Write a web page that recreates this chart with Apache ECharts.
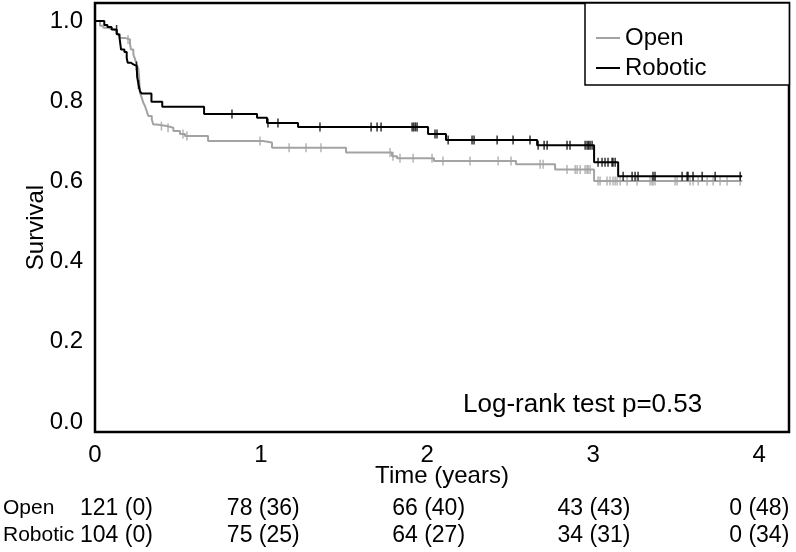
<!DOCTYPE html>
<html>
<head>
<meta charset="utf-8">
<script src="https://cdn.jsdelivr.net/npm/echarts@6/dist/echarts.min.js"></script>
<style>html,body{margin:0;padding:0;background:#fff}#c{width:796px;height:552px}</style>
</head>
<body>
<div id="c"></div>
<script>
// ---- Data ----
const openTimes = [0, 0.030, 0.050, 0.080, 0.110, 0.131, 0.151, 0.181, 0.211, 0.217, 0.231, 0.241, 0.251, 0.261, 0.265, 0.271, 0.281, 0.291, 0.301, 0.311, 0.321, 0.342, 0.351, 0.372, 0.432, 0.472, 0.512, 0.542, 0.681, 1.012, 1.066, 1.512, 1.789, 1.819, 2.042, 2.536, 2.771, 3.006, 3.898];
const openSurv = [1, 0.988, 0.983, 0.979, 0.975, 0.967, 0.958, 0.954, 0.942, 0.929, 0.917, 0.905, 0.892, 0.880, 0.863, 0.821, 0.809, 0.796, 0.788, 0.776, 0.763, 0.755, 0.742, 0.738, 0.734, 0.726, 0.718, 0.713, 0.701, 0.697, 0.684, 0.672, 0.663, 0.658, 0.651, 0.643, 0.630, 0.601, 0.601];
const openCensor = [0.199, 0.40, 0.44, 0.53, 0.554, 0.994, 1.169, 1.271, 1.361, 1.777, 1.795, 1.837, 1.916, 2.03, 2.096, 2.259, 2.428, 2.506, 2.681, 2.699, 2.843, 2.892, 2.904, 2.922, 2.952, 2.964, 2.97, 2.982, 3.03, 3.042, 3.084, 3.102, 3.12, 3.133, 3.145, 3.163, 3.205, 3.265, 3.343, 3.355, 3.361, 3.373, 3.494, 3.506, 3.584, 3.602, 3.633, 3.687, 3.723, 3.765, 3.807, 3.886];

const roboticTimes = [0, 0.056, 0.075, 0.100, 0.131, 0.145, 0.157, 0.177, 0.191, 0.197, 0.217, 0.231, 0.251, 0.254, 0.262, 0.271, 0.281, 0.340, 0.405, 0.657, 0.976, 1.036, 1.223, 2.006, 2.114, 2.663, 3.006, 3.151, 3.898];
const roboticSurv = [1, 0.990, 0.985, 0.979, 0.967, 0.963, 0.929, 0.923, 0.908, 0.896, 0.892, 0.888, 0.884, 0.860, 0.842, 0.825, 0.819, 0.799, 0.786, 0.768, 0.759, 0.746, 0.736, 0.718, 0.703, 0.690, 0.648, 0.613, 0.613];
const roboticCensor = [0.13, 0.25, 0.262, 0.825, 1.042, 1.102, 1.355, 1.663, 1.699, 1.723, 1.91, 1.92, 1.93, 1.94, 2.048, 2.06, 2.127, 2.271, 2.283, 2.422, 2.518, 2.62, 2.669, 2.705, 2.723, 2.843, 2.861, 2.952, 2.964, 2.973, 2.982, 2.994, 3.03, 3.054, 3.072, 3.09, 3.114, 3.12, 3.133, 3.181, 3.235, 3.253, 3.271, 3.361, 3.373, 3.536, 3.566, 3.572, 3.602, 3.657, 3.735, 3.886];

const xTicks = [0, 1, 2, 3, 4];
const yTicks = [0, 0.2, 0.4, 0.6, 0.8, 1.0];

const riskTimes = [0, 1, 2, 3, 4];
const openAtRisk = [121, 78, 66, 43, 0];
const openCensored = [0, 36, 40, 43, 48];
const roboticAtRisk = [104, 75, 64, 34, 0];
const roboticCensored = [0, 25, 27, 31, 34];

const groupNames = ['Open', 'Robotic'];
const pText = 'Log-rank test p=0.53';

// ---- Helpers ----
const FONT = '"Liberation Sans", Arial, Helvetica, sans-serif';
const GRAY = '#a3a3a3';
const BLACK = '#000000';

function survAt(times, surv, t) {
  let s = 1;
  for (let i = 0; i < times.length; i++) { if (times[i] <= t) s = surv[i]; }
  return s;
}
function curve(times, surv) { return times.map((t, i) => [t, surv[i]]); }
function censorPts(c, times, surv) { return c.map(t => [t, survAt(times, surv, t)]); }
function riskRow(row) {
  return riskTimes.map((t, i) => {
    const d = { value: [t, row] };
    if (i === 0) d.label = { align: 'left', offset: [-18, 0] };
    return d;
  });
}
const riskLabel = {
  show: true, position: 'inside', fontFamily: FONT, fontSize: 23, color: '#000',
  textBorderWidth: 0, opacity: 1
};

const chart = echarts.init(document.getElementById('c'), null, { renderer: 'canvas' });
chart.setOption({
  animation: false,
  backgroundColor: '#fff',
  grid: [
    { left: 95, right: 7, top: 3, bottom: 120, show: true, borderColor: '#000', borderWidth: 2.5, backgroundColor: 'transparent' },
    { left: 95, right: 7, top: 495, height: 54 }
  ],
  xAxis: [
    {
      gridIndex: 0, type: 'value', min: 0, max: 4.18,
      name: 'Time (years)', nameLocation: 'middle', nameGap: 32, nameMoveOverlap: false,
      nameTextStyle: { fontFamily: FONT, fontSize: 24, color: '#000' },
      axisLine: { show: false }, axisTick: { show: false }, splitLine: { show: false },
      axisLabel: { customValues: xTicks, fontFamily: FONT, fontSize: 24, color: '#000', margin: 11, formatter: v => String(v) }
    },
    { gridIndex: 1, type: 'value', min: 0, max: 4.18, show: false }
  ],
  yAxis: [
    {
      gridIndex: 0, type: 'value', min: -0.025, max: 1.045,
      name: 'Survival', nameLocation: 'middle', nameGap: 47, nameMoveOverlap: false,
      nameTextStyle: { fontFamily: FONT, fontSize: 24, color: '#000', padding: [0, 0, 0, -20] },
      axisLine: { show: false }, axisTick: { show: false }, splitLine: { show: false },
      axisLabel: { customValues: yTicks, fontFamily: FONT, fontSize: 24, color: '#000', margin: 12, formatter: v => v.toFixed(1) }
    },
    {
      gridIndex: 1, type: 'category', data: groupNames, inverse: true,
      axisLine: { show: false }, axisTick: { show: false }, splitLine: { show: false },
      axisLabel: { interval: 0, align: 'left', margin: 95, fontFamily: FONT, fontSize: 21, color: '#000' }
    }
  ],
  legend: {
    data: groupNames, orient: 'vertical', left: 585, top: 3,
    icon: 'rect', itemWidth: 24, itemHeight: 2, itemGap: 6,
    padding: [23, 83, 5, 11],
    borderColor: '#000', borderWidth: 1.5, borderRadius: 0, backgroundColor: '#fff',
    textStyle: { fontFamily: FONT, fontSize: 24, color: '#000' }
  },
  graphic: [
    { type: 'text', left: 463, top: 392, style: { text: pText, font: '26px ' + FONT, fill: '#000' } }
  ],
  series: [
    {
      name: 'Open', type: 'line', step: 'end', xAxisIndex: 0, yAxisIndex: 0,
      data: curve(openTimes, openSurv), showSymbol: false, symbol: 'none',
      lineStyle: { color: GRAY, width: 2 }, itemStyle: { color: GRAY }, z: 3
    },
    {
      name: 'Robotic', type: 'line', step: 'end', xAxisIndex: 0, yAxisIndex: 0,
      data: curve(roboticTimes, roboticSurv), showSymbol: false, symbol: 'none',
      lineStyle: { color: BLACK, width: 2 }, itemStyle: { color: BLACK }, z: 4
    },
    {
      name: 'Open censored', type: 'scatter', xAxisIndex: 0, yAxisIndex: 0,
      data: censorPts(openCensor, openTimes, openSurv), symbol: 'rect', symbolSize: [1.5, 9],
      itemStyle: { color: GRAY }, silent: true, z: 3
    },
    {
      name: 'Robotic censored', type: 'scatter', xAxisIndex: 0, yAxisIndex: 0,
      data: censorPts(roboticCensor, roboticTimes, roboticSurv), symbol: 'rect', symbolSize: [1.5, 9],
      itemStyle: { color: BLACK }, silent: true, z: 4
    },
    {
      name: 'Open at risk', type: 'scatter', xAxisIndex: 1, yAxisIndex: 1,
      data: riskRow('Open'), symbolSize: 1, itemStyle: { color: 'transparent' }, silent: true,
      label: Object.assign({}, riskLabel, { formatter: p => openAtRisk[p.dataIndex] + ' (' + openCensored[p.dataIndex] + ')' })
    },
    {
      name: 'Robotic at risk', type: 'scatter', xAxisIndex: 1, yAxisIndex: 1,
      data: riskRow('Robotic'), symbolSize: 1, itemStyle: { color: 'transparent' }, silent: true,
      label: Object.assign({}, riskLabel, { formatter: p => roboticAtRisk[p.dataIndex] + ' (' + roboticCensored[p.dataIndex] + ')' })
    }
  ]
});
</script>
</body>
</html>
